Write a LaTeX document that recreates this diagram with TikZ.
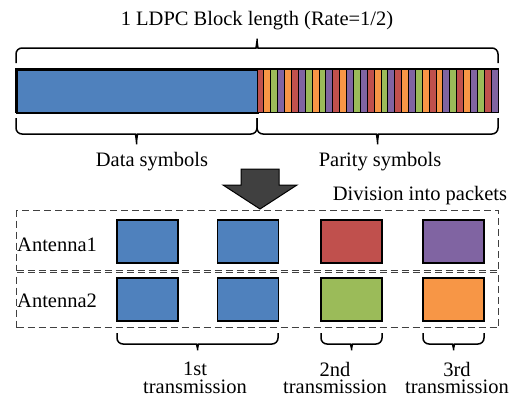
\documentclass[tikz,border=0pt]{standalone}
\usepackage{fontspec}
\setmainfont{Liberation Serif}
\usepackage{tikz}

\definecolor{pktblue}{HTML}{4F81BD}
\definecolor{pktred}{HTML}{C0504D}
\definecolor{pktgreen}{HTML}{9BBB59}
\definecolor{pktpurple}{HTML}{8064A2}
\definecolor{pktorange}{HTML}{F79646}
\definecolor{arrowgray}{HTML}{404040}

% brace: x left, x right, y of the ends, y of the flat part, y of the tip
\newcommand{\pktbrace}[5]{%
  \draw[brcline] (#1,#3) -- (#1,#4) -- ({(#1+#2)/2-7},#4)
    .. controls ({(#1+#2)/2-1},#4) and ({(#1+#2)/2},{(#4+#5)/2}) .. ({(#1+#2)/2},#5)
    .. controls ({(#1+#2)/2},{(#4+#5)/2}) and ({(#1+#2)/2+1},#4) .. ({(#1+#2)/2+7},#4)
    -- (#2,#4) -- (#2,#3);}

\begin{document}
\begin{tikzpicture}[x=1pt, y=-1pt,
    every node/.style={font=\fontsize{20.5}{17.5}\selectfont, inner sep=0pt},
    brcline/.style={line width=1.5pt, rounded corners=6pt},
    pkt/.style={draw, line width=1.4pt, minimum width=61pt, minimum height=43pt, fill=#1},
    grp/.style={draw=black!75, line width=1.2pt, dash pattern=on 7pt off 4pt,
      minimum width=482pt, anchor=north west}]
  \useasboundingbox (0,0) rectangle (521,397);
  % codeword bar
  \node[draw, fill=pktblue, line width=1.5pt, minimum width=241pt, minimum height=43pt, anchor=north west] (data) at (16,69) {};
  \node[minimum width=241pt, minimum height=43pt, anchor=north west] (parity) at (257,69) {};
  \foreach \c [count=\i from 0] in {pktred,pktorange,pktgreen,pktpurple,pktorange,pktred,pktpurple,pktgreen,pktorange,pktgreen,pktpurple,pktred,pktorange,pktpurple,pktgreen,pktpurple,pktred,pktorange,pktgreen,pktpurple,pktred,pktorange,pktpurple,pktgreen,pktorange,pktred,pktorange,pktpurple,pktgreen,pktred,pktorange,pktpurple,pktgreen,pktred,pktpurple}
    \filldraw[fill=\c, draw=black, line width=0.9pt] ({257+\i*6.886},69) rectangle +(6.886,43);
  \draw[line width=1.5pt] (data.north west) rectangle (parity.south east);
  % braces over and under the bar
  \pktbrace{16}{498}{63}{48}{35}
  \pktbrace{16}{257}{118}{134}{148}
  \pktbrace{257}{498}{118}{134}{148}
  \node[anchor=base] (title) at (257,25) {1 LDPC Block length (Rate=1/2)};
  \node[anchor=base] (datalbl) at (152,166) {Data symbols};
  \node[anchor=base] (paritylbl) at (380,166) {Parity symbols};
  % arrow
  \filldraw[fill=arrowgray, draw=black, line width=1pt] (241,169) -- (279,169) -- (279,185) -- (297,185)
    -- (260,209) -- (223,185) -- (241,185) -- cycle;
  \node[anchor=base] (divlbl) at (420,200) {Division into packets};
  % antennas
  \node[grp, minimum height=60pt] (ant1) at (16,210) {};
  \node[grp, minimum height=55pt] (ant2) at (16,272) {};
  \node[anchor=base west] (ant1lbl) at (17,251) {Antenna1};
  \node[anchor=base west] (ant2lbl) at (17,307) {Antenna2};
  \node[pkt=pktblue] (a1p1) at (147.5,241.5) {};
  \node[pkt=pktblue] (a1p2) at (248,241.5) {};
  \node[pkt=pktred] (a1p3) at (351.5,241.5) {};
  \node[pkt=pktpurple] (a1p4) at (453.5,241.5) {};
  \node[pkt=pktblue] (a2p1) at (147.5,299.5) {};
  \node[pkt=pktblue] (a2p2) at (248,299.5) {};
  \node[pkt=pktgreen] (a2p3) at (351.5,299.5) {};
  \node[pkt=pktorange] (a2p4) at (453.5,299.5) {};
  % transmissions
  \pktbrace{117}{278}{333}{344}{354}
  \pktbrace{321}{382}{333}{344}{354}
  \pktbrace{423}{484}{333}{344}{354}
  \node[align=center] (tx1) at (195,378) {1st\\transmission};
  \node[align=center] (tx2) at (335,378) {2nd\\transmission};
  \node[align=center] (tx3) at (457,378) {3rd\\transmission};
\end{tikzpicture}
\end{document}
